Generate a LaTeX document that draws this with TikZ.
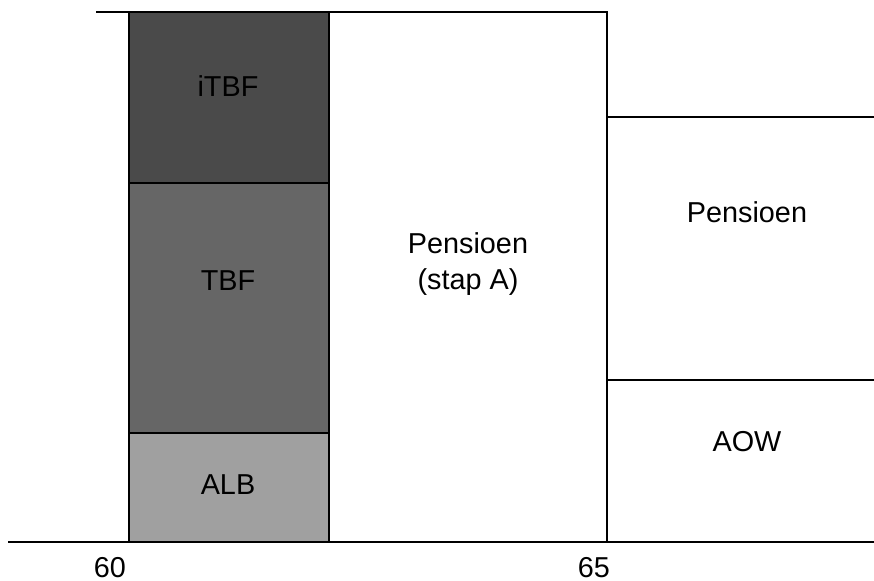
\documentclass[tikz,border=0pt]{standalone}
\usepackage{fontspec}
\setmainfont{Liberation Sans}
\definecolor{D}{RGB}{74,74,74}
\definecolor{M}{RGB}{102,102,102}
\definecolor{L}{RGB}{160,160,160}
\tikzstyle{lbl} = [font=\fontsize{14.4}{18}\selectfont, align=center, inner sep=0pt]
\tikzstyle{bar} = [draw=black, line width=1pt]
\tikzstyle{rule} = [black, line width=1pt]

\begin{document}
\begin{tikzpicture}[x=0.5pt, y=-0.5pt]
    \useasboundingbox (0,0) rectangle (874,581);

    % linkerkolom
    \filldraw[bar, fill=D] (129,12)  rectangle (329,183);
    \filldraw[bar, fill=M] (129,183) rectangle (329,433);
    \filldraw[bar, fill=L] (129,433) rectangle (329,542);

    % lijnen
    \draw[rule] (96,12) -- (607,12) -- (607,542);
    \draw[rule] (607,117) -- (874,117);
    \draw[rule] (607,380) -- (874,380);
    \draw[rule] (8,542) -- (874,542);

    \node[lbl, anchor=base] (itbf) at (228,97)  {iTBF};
    \node[lbl, anchor=base] (tbf)  at (228,291) {TBF};
    \node[lbl, anchor=base] (alb)  at (228,495) {ALB};
    \node[lbl]              (pa)   at (468,264) {Pensioen\\(stap A)};
    \node[lbl, anchor=base] (pen)  at (747,223) {Pensioen};
    \node[lbl, anchor=base] (aow)  at (747,452) {AOW};
    \node[lbl, anchor=base] (l60)  at (110,578) {60};
    \node[lbl, anchor=base] (l65)  at (594,578) {65};
\end{tikzpicture}
\end{document}
